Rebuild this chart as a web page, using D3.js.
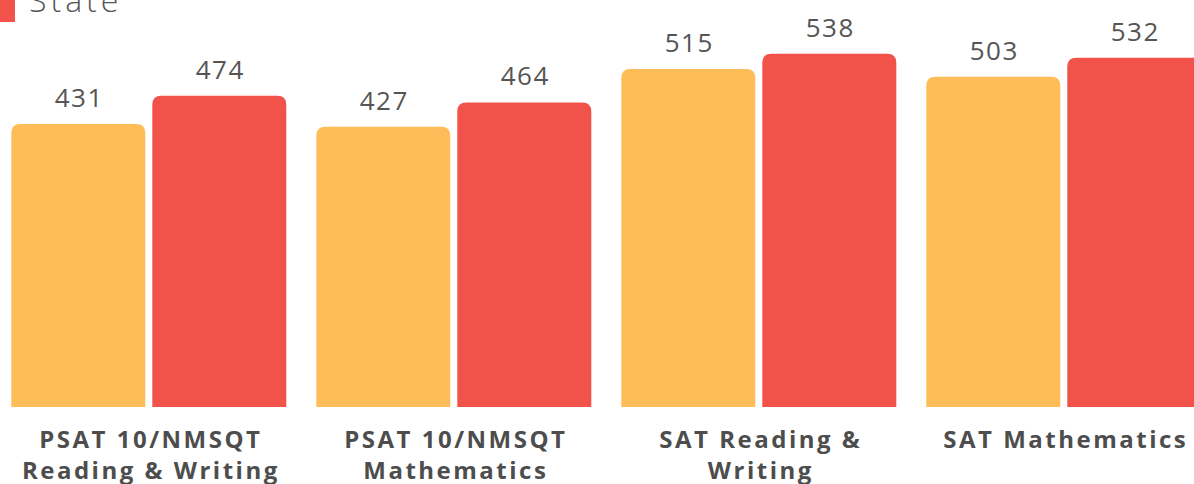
<!DOCTYPE html>
<html>
<head>
<meta charset="utf-8">
<script src="https://cdn.jsdelivr.net/npm/d3@7"></script>
<style>
  html, body { margin: 0; padding: 0; background: #fff; overflow: hidden; }
  svg { display: block; }
</style>
</head>
<body>
<svg id="chart"></svg>
<script>
// 数据
var categories = ["PSAT 10/NMSQT Reading & Writing", "PSAT 10/NMSQT Mathematics", "SAT Reading & Writing", "SAT Mathematics"];
var categoryLines = [["PSAT 10/NMSQT", "Reading & Writing"], ["PSAT 10/NMSQT", "Mathematics"], ["SAT Reading &", "Writing"], ["SAT Mathematics"]];
var seriesNames = ["School", "State"];
var schoolValues = [431, 427, 515, 503];
var stateValues = [474, 464, 538, 532];
var seriesColors = ["#ffbd59", "#f15249"];

var W = 1194, H = 484;
var svg = d3.select("#chart").attr("width", W).attr("height", H);

// 比例尺
var x0 = d3.scaleBand()
    .domain(categories)
    .range([11.3, 11.3 + 4 * 305 - 30])
    .paddingInner(30 / 305);
var x1 = d3.scaleBand()
    .domain(seriesNames)
    .range([0, x0.bandwidth()])
    .paddingInner(7 / 141);
var y = d3.scaleLinear().domain([0, 620]).range([407, 0]);

var color = d3.scaleOrdinal().domain(seriesNames).range(seriesColors);

var rows = categories.map(function (c, i) {
    return { cat: c, vals: [
        { name: seriesNames[0], v: schoolValues[i] },
        { name: seriesNames[1], v: stateValues[i] }
    ] };
});

// 上圆角柱子
function topRounded(x, yy, w, h, r) {
    return "M" + x + "," + (yy + h) +
        "V" + (yy + r) +
        "Q" + x + "," + yy + " " + (x + r) + "," + yy +
        "H" + (x + w - r) +
        "Q" + (x + w) + "," + yy + " " + (x + w) + "," + (yy + r) +
        "V" + (yy + h) + "Z";
}

var groups = svg.append("g").selectAll("g")
    .data(rows)
    .join("g")
    .attr("transform", function (d) { return "translate(" + x0(d.cat) + ",0)"; });

groups.selectAll("path")
    .data(function (d) { return d.vals; })
    .join("path")
    .attr("fill", function (d) { return color(d.name); })
    .attr("d", function (d) {
        return topRounded(x1(d.name), y(d.v), x1.bandwidth(), y(0) - y(d.v), 9);
    });

groups.selectAll("text")
    .data(function (d) { return d.vals; })
    .join("text")
    .attr("x", function (d) { return x1(d.name) + x1.bandwidth() / 2 + 1; })
    .attr("y", function (d) { return y(d.v) - 17; })
    .attr("text-anchor", "middle")
    .attr("font-family", "'Open Sans', sans-serif")
    .attr("font-size", 26)
    .attr("letter-spacing", 1.5)
    .attr("fill", "#555")
    .text(function (d) { return d.v; });

// 分类标签
var xAxis = d3.axisBottom(x0).tickSize(0).tickFormat("");
var axisG = svg.append("g")
    .attr("transform", "translate(0," + y(0) + ")")
    .call(xAxis);
axisG.select(".domain").remove();
axisG.selectAll(".tick text")
    .attr("y", 0).attr("dy", 0)
    .attr("font-family", "'Open Sans', sans-serif")
    .attr("font-size", 24)
    .attr("font-weight", 700)
    .attr("letter-spacing", 2.5)
    .attr("fill", "#4d4d4d")
    .each(function (d, i) {
        var t = d3.select(this);
        categoryLines[i].forEach(function (line, j) {
            t.append("tspan")
                .attr("x", 2)
                .attr("y", 41 + j * 31)
                .text(line);
        });
    });

// 图例（上方被裁切，只露出 State）
var legend = svg.append("g");
legend.append("rect")
    .attr("x", -20).attr("y", -16)
    .attr("width", 35).attr("height", 38)
    .attr("fill", color(seriesNames[1]));
legend.append("text")
    .attr("x", 29).attr("y", 12)
    .attr("font-family", "'Open Sans', sans-serif")
    .attr("font-size", 32)
    .attr("font-weight", 300)
    .attr("letter-spacing", 4)
    .attr("fill", "#555")
    .text(seriesNames[1]);
</script>
</body>
</html>
